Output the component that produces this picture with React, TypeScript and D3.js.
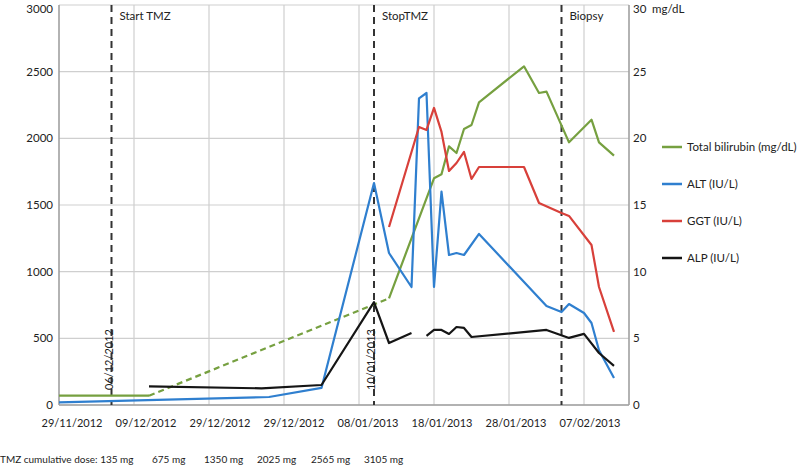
import React from "react";
import * as d3 from "d3";

// x tick labels as printed in the figure (third one is printed twice in the source)
const tickLabels = ["29/11/2012", "09/12/2012", "29/12/2012", "29/12/2012", "08/01/2013", "18/01/2013", "28/01/2013", "07/02/2013"];
const tickDates = ["29/11/2012", "09/12/2012", "19/12/2012", "29/12/2012", "08/01/2013", "18/01/2013", "28/01/2013", "07/02/2013"];

const bilirubinDates = ["29/11/2012", "11/12/2012", "12/01/2013", "18/01/2013", "19/01/2013", "20/01/2013", "21/01/2013", "22/01/2013", "23/01/2013", "24/01/2013", "30/01/2013", "01/02/2013", "02/02/2013", "05/02/2013", "08/02/2013", "09/02/2013", "11/02/2013"];
const bilirubinValues = [0.7, 0.7, 8.0, 17.0, 17.3, 19.4, 18.9, 20.7, 21.0, 22.7, 25.4, 23.4, 23.5, 19.7, 21.4, 19.7, 18.7];

const altDates = ["29/11/2012", "27/12/2012", "03/01/2013", "10/01/2013", "12/01/2013", "15/01/2013", "16/01/2013", "17/01/2013", "18/01/2013", "19/01/2013", "20/01/2013", "21/01/2013", "22/01/2013", "24/01/2013", "02/02/2013", "04/02/2013", "05/02/2013", "07/02/2013", "08/02/2013", "09/02/2013", "11/02/2013"];
const altValues = [20, 60, 128, 1665, 1140, 885, 2300, 2340, 885, 1600, 1125, 1140, 1125, 1283, 742, 697, 757, 690, 615, 410, 202];

const ggtDates = ["12/01/2013", "16/01/2013", "17/01/2013", "18/01/2013", "19/01/2013", "20/01/2013", "21/01/2013", "22/01/2013", "23/01/2013", "24/01/2013", "30/01/2013", "01/02/2013", "04/02/2013", "05/02/2013", "08/02/2013", "09/02/2013", "11/02/2013"];
const ggtValues = [1335, 2085, 2063, 2228, 2048, 1755, 1815, 1898, 1695, 1785, 1785, 1515, 1440, 1418, 1200, 885, 548];

const alpDates = ["11/12/2012", "26/12/2012", "03/01/2013", "10/01/2013", "12/01/2013", "15/01/2013", "16/01/2013", "17/01/2013", "18/01/2013", "19/01/2013", "20/01/2013", "21/01/2013", "22/01/2013", "23/01/2013", "02/02/2013", "05/02/2013", "07/02/2013", "09/02/2013", "11/02/2013"];
const alpValues = [140, 125, 150, 772, 465, 540, null, 518, 563, 563, 533, 585, 578, 510, 563, 503, 533, 390, 293];

const eventDates = ["06/12/2012", "10/01/2013", "04/02/2013"];
const eventNames = ["Start TMZ", "StopTMZ", "Biopsy"];
const eventDateLabels = ["06/12/2012", "10/01/2013", null];

const doseLabels = ["TMZ cumulative dose: 135 mg", "675 mg", "1350 mg", "2025 mg", "2565 mg", "3105 mg"];
const doseX = [0, 152, 204, 257, 311, 364];

const legendNames = ["Total bilirubin (mg/dL)", "ALT (IU/L)", "GGT (IU/L)", "ALP (IU/L)"];
const colors = ["#76a040", "#2f7fcf", "#d8403a", "#151515"];

const parse = d3.timeParse("%d/%m/%Y");
const font = "Lato, sans-serif";

type Pt = { d: Date; v: number | null };
const zip = (ds: string[], vs: (number | null)[]): Pt[] => ds.map((d, i) => ({ d: parse(d) as Date, v: vs[i] }));

export default function App() {
  const left = 59, right = 629, top = 5, bottom = 405;

  const x = d3.scaleTime()
    .domain([parse("29/11/2012") as Date, parse("13/02/2013") as Date])
    .range([left, right]);
  const yL = d3.scaleLinear().domain([0, 3000]).range([bottom, top]);
  const yR = d3.scaleLinear().domain([0, 30]).range([bottom, top]);
  const labelX = d3.scalePoint<number>().domain(d3.range(tickLabels.length)).range([72, 590]);

  const lineL = d3.line<Pt>().defined((p) => p.v != null).x((p) => x(p.d)).y((p) => yL(p.v as number));
  const lineR = d3.line<Pt>().x((p) => x(p.d)).y((p) => yR(p.v as number));

  const bili = zip(bilirubinDates, bilirubinValues);
  const biliStart = bili.slice(0, 2);
  const biliDash = bili.slice(1, 3);
  const biliEnd = bili.slice(2);

  const series = [
    { pts: zip(altDates, altValues), c: colors[1] },
    { pts: zip(ggtDates, ggtValues), c: colors[2] },
    { pts: zip(alpDates, alpValues), c: colors[3] },
  ];

  const tickY = (v: number) => Math.max(v, 9);

  return (
    <svg width={800} height={465} style={{ position: "fixed", left: 0, top: 0, background: "#fff" }} fontFamily={font}>
      {/* grid */}
      {yL.ticks(6).map((t) => (
        <line key={"h" + t} x1={left} x2={right} y1={yL(t)} y2={yL(t)} stroke="#cfcfcf" strokeWidth={1.2} />
      ))}
      {tickDates.slice(1).map((t) => (
        <line key={"v" + t} x1={x(parse(t) as Date)} x2={x(parse(t) as Date)} y1={top} y2={bottom} stroke="#cfcfcf" strokeWidth={1.2} />
      ))}
      {/* axes */}
      <line x1={left} x2={left} y1={top} y2={bottom} stroke="#a0a0a0" strokeWidth={1.6} />
      <line x1={right} x2={right} y1={top} y2={bottom} stroke="#a0a0a0" strokeWidth={1.6} />
      <line x1={left} x2={right} y1={bottom} y2={bottom} stroke="#a0a0a0" strokeWidth={1.6} />
      {yL.ticks(6).map((t) => (
        <text key={"l" + t} x={left - 6} y={tickY(yL(t))} dy="0.35em" textAnchor="end" fontSize={11.5} fill="#222">{t}</text>
      ))}
      {yR.ticks(6).map((t) => (
        <text key={"r" + t} x={right + 4} y={tickY(yR(t))} dy="0.35em" fontSize={11.5} fill="#222">{t}</text>
      ))}
      <text x={right + 23} y={tickY(yR(30))} dy="0.35em" fontSize={11.5} fill="#222">mg/dL</text>
      {tickLabels.map((t, i) => (
        <text key={"x" + i} x={labelX(i)} y={bottom + 22} textAnchor="middle" fontSize={11} fill="#222">{t}</text>
      ))}

      {/* event lines */}
      {eventDates.map((e, i) => {
        const ex = x(parse(e) as Date);
        return (
          <g key={"e" + i}>
            <line x1={ex} x2={ex} y1={top} y2={bottom} stroke="#333" strokeWidth={2} strokeDasharray="7,5" />
            <text x={ex + 8} y={20} fontSize={11.5} fill="#222">{eventNames[i]}</text>
            {eventDateLabels[i] && (
              <text transform={`translate(${ex + 1},390) rotate(-90)`} fontSize={11} fill="#222">{eventDateLabels[i]}</text>
            )}
          </g>
        );
      })}

      {/* series */}
      <path d={lineR(biliStart) || ""} fill="none" stroke={colors[0]} strokeWidth={2.2} />
      <path d={lineR(biliDash) || ""} fill="none" stroke={colors[0]} strokeWidth={2.2} strokeDasharray="6,4" />
      <path d={lineR(biliEnd) || ""} fill="none" stroke={colors[0]} strokeWidth={2.2} strokeLinejoin="round" />
      {series.map((s, i) => (
        <path key={"s" + i} d={lineL(s.pts) || ""} fill="none" stroke={s.c} strokeWidth={2.2} strokeLinejoin="round" />
      ))}

      {/* legend */}
      {legendNames.map((n, i) => (
        <g key={"g" + i} transform={`translate(662,${147 + i * 37})`}>
          <line x1={0} x2={20} y1={0} y2={0} stroke={colors[i]} strokeWidth={2.5} />
          <text x={25} y={0} dy="0.35em" fontSize={11.5} fill="#222">{n}</text>
        </g>
      ))}

      {/* dose footnote */}
      {doseLabels.map((t, i) => (
        <text key={"d" + i} x={doseX[i]} y={463} fontSize={10} fill="#222">{t}</text>
      ))}
    </svg>
  );
}
